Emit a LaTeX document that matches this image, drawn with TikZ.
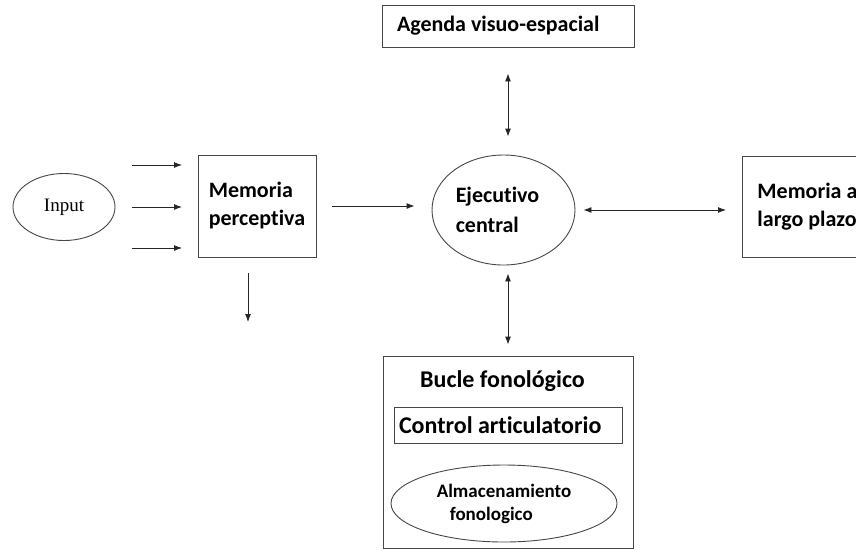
\documentclass[tikz,border=0pt]{standalone}
\usepackage{fontspec}
\usepackage{tikz}
\usetikzlibrary{positioning, arrows.meta, shapes.geometric}
\newfontfamily\diagfont[Ligatures=NoCommon]{Carlito}
\newfontfamily\inputfont{Liberation Serif}
\definecolor{lineGray}{RGB}{70,70,70}

\begin{document}
\begin{tikzpicture}[
    x=1pt, y=-1pt,
    box/.style={rectangle, draw=lineGray, line width=0.9pt, inner sep=0pt, font=\diagfont\bfseries\fontsize{22}{28}\selectfont},
    oval/.style={ellipse, draw=lineGray, line width=0.9pt, inner sep=0pt},
    arrow/.style={-{Latex[length=8pt, width=6pt]}, line width=0.9pt, black!85},
    darrow/.style={{Latex[length=8pt, width=6pt]}-{Latex[length=8pt, width=6pt]}, line width=0.9pt, black!85}
]
\useasboundingbox (0,0) rectangle (856,550);

% Nodes
\node[oval, minimum width=102, minimum height=67, font=\inputfont\fontsize{19}{22}\selectfont] (input) at (64,207) {Input};
\node[box, minimum width=118, minimum height=102, align=left] (mem) at (257,206) {Memoria\\perceptiva};
\node[oval, minimum width=143, minimum height=110, font=\diagfont\bfseries\fontsize{22}{30}\selectfont, align=left] (ejec) at (503.5,210) {Ejecutivo\hspace*{12pt}\\central};
\node[box, minimum width=252, minimum height=42, inner xsep=15pt, text width=222, align=flush left] (agenda) at (508,26) {Agenda visuo-espacial};
\node[box, anchor=west, minimum width=130, minimum height=101, align=left] (largo) at (742,206.5) {Memoria a\\largo plazo};

% Bucle fonologico
\node[box, minimum width=250, minimum height=192] (bucle) at (508,452) {};
\node[font=\diagfont\bfseries\fontsize{24}{28}\selectfont] (bucletxt) at (502.5,381) {Bucle fonológico};
\node[box, minimum width=228, minimum height=36, inner xsep=5pt, text width=218, align=flush left, font=\diagfont\bfseries\fontsize{24}{28}\selectfont] (control) at (508,425) {Control articulatorio};
\node[oval, minimum width=226, minimum height=77, font=\diagfont\bfseries\fontsize{19}{23}\selectfont, align=left] (almac) at (504,503.5) {Almacenamiento\\\hspace*{13pt}fonologico};

% Free ends
\coordinate (a1s) at (132,165);
\coordinate (a1e) at (182,165);
\coordinate (a2s) at (132,207);
\coordinate (a2e) at (182,207);
\coordinate (a3s) at (132,248);
\coordinate (a3e) at (182,248);
\coordinate (outs) at (248,273);
\coordinate (oute) at (248,322);

% Arrows
\draw[arrow] (a1s) -- (a1e);
\draw[arrow] (a2s) -- (a2e);
\draw[arrow] (a3s) -- (a3e);
\draw[arrow] (outs) -- (oute);
\draw[arrow, shorten <=16pt, shorten >=17pt] (mem.east) -- (mem.east -| ejec.west);
\draw[darrow, shorten <=26pt, shorten >=18pt] (agenda.south) -- (agenda.south |- ejec.north);
\draw[darrow, shorten <=11pt, shorten >=8pt] (bucle.north) -- (bucle.north |- ejec.south);
\draw[darrow, shorten <=8pt, shorten >=16pt] (ejec.east) -- (ejec.east -| largo.west);
\end{tikzpicture}
\end{document}
